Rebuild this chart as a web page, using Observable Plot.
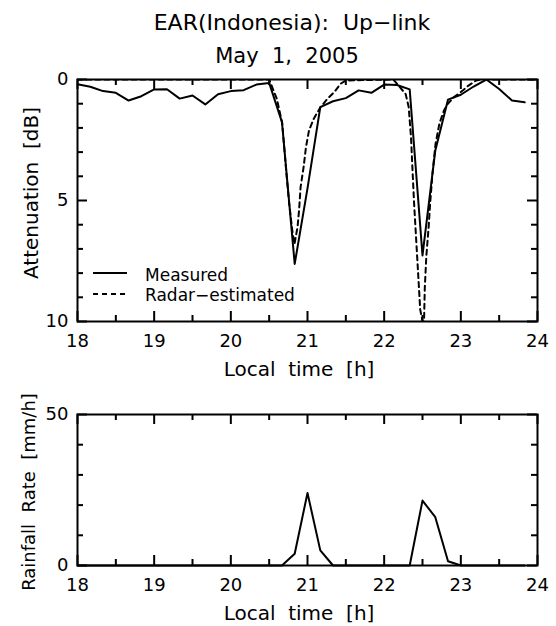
<!DOCTYPE html>
<html><head><meta charset="utf-8">
<script src="https://cdn.jsdelivr.net/npm/d3@7"></script>
<script src="https://cdn.jsdelivr.net/npm/@observablehq/plot@0.6"></script>
<style>
body{margin:0;background:#fff}
#chart{width:556px;height:626px;position:relative}
#chart > svg{display:block}
#overlay{position:absolute;left:0;top:0;pointer-events:none;overflow:visible}
</style>
</head><body><div id="chart"></div>
<script>
// ---- data ----
const measuredTime = [18.000,18.167,18.333,18.500,18.667,18.833,19.000,19.167,19.333,19.500,19.667,19.833,
  20.000,20.167,20.333,20.500,20.667,20.833,21.000,21.167,21.333,21.500,21.667,21.833,
  22.000,22.167,22.333,22.500,22.667,22.833,23.000,23.167,23.333,23.500,23.667,23.833];
const measuredAtten = [0.20,0.30,0.48,0.55,0.87,0.69,0.41,0.40,0.79,0.66,1.03,0.61,
  0.48,0.44,0.21,0.14,1.76,7.62,4.50,1.14,0.90,0.77,0.45,0.55,
  0.21,0.23,0.41,7.27,2.93,0.83,0.63,0.29,0.00,0.39,0.87,0.94];
const radarTime = [18.00,20.50,20.60,20.67,20.72,20.76,20.80,20.83,20.87,20.89,20.91,20.95,20.98,21.02,21.08,21.17,
  21.26,21.35,21.43,21.50,22.12,22.20,22.28,22.32,22.35,22.37,22.39,22.41,22.43,22.45,22.47,22.50,
  22.52,22.53,22.55,22.58,22.60,22.63,22.67,22.72,22.78,22.83,22.91,23.00,23.10,23.20,23.26,24.00];
const radarAtten = [0,0,0.8,1.8,3.7,5.1,6.2,6.8,6.1,5.4,4.45,3.6,2.8,2.1,1.63,1.14,
  0.8,0.52,0.18,0.04,0,0.3,0.6,1.14,2.38,3.76,5.1,6.2,7.3,8.4,9.5,10,
  10,8.6,7.3,6.1,5.1,3.9,2.66,1.83,1.28,1.0,0.73,0.52,0.25,0.04,0,0];
const rainTime = measuredTime;
const rainRate = [0,0,0,0,0,0,0,0,0,0,0,0,
  0,0,0,0,0,3.9,24,5.0,0,0,0,0,
  0,0,0,21.5,16,1.4,0,0,0,0,0,0];
const hourTicks = [18,19,20,21,22,23,24];
const halfTicks = [18.5,19.5,20.5,21.5,22.5,23.5];
const attenLabelTicks = [0,5,10];
const attenMinorTicks = [1,2,3,4,6,7,8,9];
const rainLabelTicks = [0,50];
const rainMinorTicks = [10,20,30,40];
const titleText = "EAR(Indonesia):  Up\u2212link";
const subtitleText = "May  1,  2005";
const xLabel = "Local  time  [h]";
const attenLabel = "Attenuation  [dB]";
const rainLabel = "Rainfall  Rate  [mm/h]";
const seriesNames = ["Measured", "Radar\u2212estimated"];

// ---- layout ----
const W = 556, H = 626, FONT = "DejaVu Sans";
const ML = 77, MR = 19;
const FW = W - ML - MR;
const topL = {h: 392, mt: 79, mb: 71};
const botL = {h: 234, mt: 22, mb: 61};
const topFH = topL.h - topL.mt - topL.mb;
const botFH = botL.h - botL.mt - botL.mb;
const MAJ = 10, MIN = 6;

const measured = measuredTime.map((t, i) => ({t, v: measuredAtten[i]}));
const radar = radarTime.map((t, i) => ({t, v: radarAtten[i]}));
const rain = rainTime.map((t, i) => ({t, v: rainRate[i]}));

function frameTicks(FH, yMajor, yMinor) {
  const sw = 2;
  return [
    Plot.tickX(hourTicks, {x: d => d, insetTop: FH - MAJ, strokeWidth: sw}),
    Plot.tickX(hourTicks, {x: d => d, insetBottom: FH - MAJ, strokeWidth: sw}),
    Plot.tickX(halfTicks, {x: d => d, insetTop: FH - MIN, strokeWidth: sw}),
    Plot.tickX(halfTicks, {x: d => d, insetBottom: FH - MIN, strokeWidth: sw}),
    Plot.tickY(yMajor, {y: d => d, insetRight: FW - MAJ, strokeWidth: sw}),
    Plot.tickY(yMajor, {y: d => d, insetLeft: FW - MAJ, strokeWidth: sw}),
    Plot.tickY(yMinor, {y: d => d, insetRight: FW - MIN, strokeWidth: sw}),
    Plot.tickY(yMinor, {y: d => d, insetLeft: FW - MIN, strokeWidth: sw}),
    Plot.frame({strokeWidth: 2})
  ];
}

const p1 = Plot.plot({
  width: W, height: topL.h,
  marginLeft: ML, marginRight: MR, marginTop: topL.mt, marginBottom: topL.mb,
  style: {fontFamily: FONT, fontSize: "18px", color: "black", background: "white"},
  x: {domain: [18, 24]},
  y: {domain: [0, 10], reverse: true},
  marks: [
    Plot.axisX({ticks: hourTicks, tickSize: 0, tickPadding: 13, label: null, fontSize: 18, tickFormat: d => String(d)}),
    Plot.axisY({ticks: attenLabelTicks, tickSize: 0, tickPadding: 9, label: null, fontSize: 18, tickFormat: d => String(d)}),
    Plot.line(radar, {x: "t", y: "v", stroke: "black", strokeWidth: 2, strokeDasharray: "5,4", clip: true}),
    Plot.line(measured, {x: "t", y: "v", stroke: "black", strokeWidth: 2, clip: true}),
    ...frameTicks(topFH, attenLabelTicks, attenMinorTicks)
  ]
});

const p2 = Plot.plot({
  width: W, height: botL.h,
  marginLeft: ML, marginRight: MR, marginTop: botL.mt, marginBottom: botL.mb,
  style: {fontFamily: FONT, fontSize: "18px", color: "black", background: "white"},
  x: {domain: [18, 24]},
  y: {domain: [0, 50]},
  marks: [
    Plot.axisX({ticks: hourTicks, tickSize: 0, tickPadding: 13, label: null, fontSize: 18, tickFormat: d => String(d)}),
    Plot.axisY({ticks: rainLabelTicks, tickSize: 0, tickPadding: 9, label: null, fontSize: 18, tickFormat: d => String(d)}),
    Plot.line(rain, {x: "t", y: "v", stroke: "black", strokeWidth: 2}),
    ...frameTicks(botFH, rainLabelTicks, rainMinorTicks)
  ]
});

const chart = document.getElementById("chart");
chart.appendChild(p1);
chart.appendChild(p2);

// overlay for titles, axis labels, legend (page pixel coordinates)
const ov = d3.select(chart).append("svg").attr("id", "overlay")
  .attr("width", W).attr("height", H).attr("viewBox", `0 0 ${W} ${H}`);
function txt(x, y, s, size, anchor = "middle", rotate = false) {
  const t = ov.append("text").attr("font-family", FONT).attr("font-size", size)
    .attr("fill", "black").attr("text-anchor", anchor).style("white-space", "pre").text(s);
  if (rotate) t.attr("transform", `translate(${x},${y}) rotate(-90)`);
  else t.attr("x", x).attr("y", y);
  return t;
}
txt(292, 30, titleText, 22);
txt(287, 63, subtitleText, 21);
txt(299, 376, xLabel, 20);
txt(38, 193, attenLabel, 20, "middle", true);
txt(299, 620, xLabel, 20);
txt(35, 492, rainLabel, 18, "middle", true);

ov.append("line").attr("x1", 93).attr("x2", 127).attr("y1", 273).attr("y2", 273)
  .attr("stroke", "black").attr("stroke-width", 2);
ov.append("line").attr("x1", 93).attr("x2", 127).attr("y1", 294).attr("y2", 294)
  .attr("stroke", "black").attr("stroke-width", 2).attr("stroke-dasharray", "5,4");
txt(145, 281, seriesNames[0], 17, "start");
txt(145, 301, seriesNames[1], 17, "start");
</script>
</body></html>
